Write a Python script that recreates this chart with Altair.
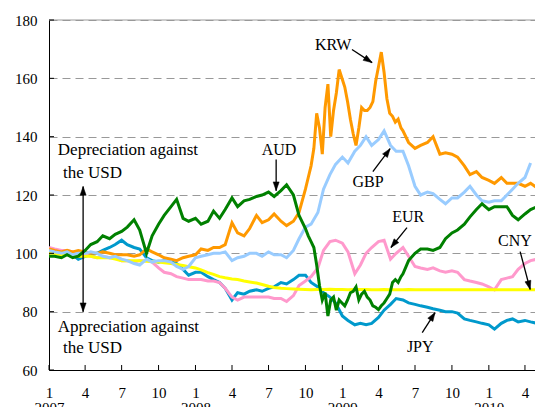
import altair as alt
import pandas as pd

# semi-monthly observation dates (1st and 15th of each month)
dates = pd.date_range("2007-01-01", "2010-05-15", freq="SMS")

AUD = [99, 99, 98.5, 99.5, 98.5, 99, 101, 103, 104, 106, 105, 106.5, 107.5, 109, 111.5, 108,
       100, 106, 110, 113, 116, 118.5, 112, 111, 112, 110, 111, 114.5, 112, 115, 119, 116,
       118, 118.5, 119.5, 120, 121, 119.5, 121.5, 123.5, 120, 113, 109, 104, 96, 84,
       78, 84, 82, 85, 86, 85, 86, 82, 81, 83, 88, 91, 93, 97.5, 100, 101.5,
       101.5, 101, 102, 105, 107, 108, 110, 112.5, 115, 117, 115, 116, 116, 116,
       113, 111.5, 113.5, 115, 116, 116]
KRW = [101.5, 101, 100.5, 101, 100.5, 101, 100.5, 100, 100, 100.5, 100, 99.5, 99.5, 99.5, 99, 99.5,
       101.5, 100.5, 99.5, 98.5, 98, 97.5, 98.5, 99, 99.5, 101.5, 101, 102, 102, 103, 110.5, 107,
       106, 108.5, 113, 110.5, 111.5, 113.5, 111, 109.5, 111, 114, 120, 130, 148, 135,
       153, 145, 158, 148, 139, 150, 149, 150, 163, 168, 151, 145, 142, 138, 136, 137,
       138, 140, 134, 134.5, 134, 133, 130, 127, 128, 126, 125, 124, 126, 124,
       124, 124, 123, 124, 122.5, 123]
GBP = [101, 100.5, 100, 100.5, 99.5, 100, 100, 100.5, 100, 99, 98.5, 99, 98, 97.5, 96.5, 96,
       98, 97, 97.5, 97.5, 97, 95.5, 94.5, 95.5, 98.5, 99, 99.5, 100, 100, 100.5, 97.5, 98.5,
       99, 100, 100, 99, 100.5, 99.5, 99.5, 98.5, 101, 105, 109, 110, 114, 122,
       127, 130.5, 133, 131, 135, 137, 140, 137, 139, 142, 137, 135, 135, 130, 123, 120,
       121, 120.5, 118.5, 117, 119, 119, 121, 123, 120, 118, 117.5, 118, 118, 120,
       122, 124, 126, 131]
EUR = [102, 101.5, 101, 101, 100.5, 100, 99.5, 99, 98.5, 99, 98.5, 98.5, 97.5, 97.5, 97, 97.5,
       97.5, 97, 95, 93.5, 93, 92, 91.5, 91, 91, 91, 90.5, 90.5, 90, 88, 85, 84,
       85, 85, 85, 85, 85, 84.5, 84.5, 83.5, 85.5, 89, 90.5, 92, 95, 101,
       104, 104.5, 103.5, 100.5, 93, 96, 100, 102, 104, 104.5, 98, 100, 102, 99, 95.5, 95,
       94.5, 95, 94, 93.5, 94, 93.5, 91, 90.5, 90, 89.5, 88.5, 87.5, 91, 91.5,
       92, 94.5, 96.5, 97.5, 98, 98.5]
JPY = [101.5, 101, 100.5, 100.5, 99.5, 98, 99, 99.5, 100, 101, 102, 103, 104.5, 103, 102, 101.5,
       98.5, 97.5, 97, 97.5, 97, 96.5, 94.5, 92.5, 93.5, 93.5, 92, 91, 90, 88, 84, 86.5,
       86, 87, 87.5, 87, 88, 88.5, 90, 89.5, 91, 92.5, 92.5, 90, 88.5, 86.5,
       85, 83, 78.5, 77, 75.5, 76, 75.5, 76, 78, 80.5, 82.5, 84.5, 84, 83, 82.5, 82,
       81.5, 81, 80.5, 80, 80, 79.5, 77.5, 77, 76.5, 76, 75.5, 74, 76, 77,
       77.5, 76.5, 77, 76.5, 76, 77]
CNY = [100, 100, 99.5, 99.5, 99.5, 99, 99, 99, 98.5, 98.5, 98.5, 98, 97.5, 97.5, 97.5, 97.5,
       97.3, 97.2, 97, 96.8, 96.5, 96.2, 95.8, 95.4, 95, 94.3, 93.4, 92.8, 92, 91.6, 91.2, 91,
       90.5, 90.2, 89.8, 89.3, 88.7, 88.3, 88, 87.9, 87.8, 87.7, 87.6, 87.5, 87.6, 87.6,
       87.7, 87.6, 87.6, 87.5, 87.6, 87.6, 87.6, 87.5, 87.5, 87.6, 87.5, 87.5, 87.5, 87.6, 87.5, 87.5,
       87.5, 87.5, 87.5, 87.5, 87.5, 87.5, 87.5, 87.5, 87.5, 87.5, 87.5, 87.5, 87.5, 87.5,
       87.5, 87.5, 87.5, 87.5, 87.5, 87.5]

# weekly detail for the volatile window (Oct 2008 - May 2009)
weekly_dates = pd.date_range("2008-10-01", "2009-05-27", freq="7D")
KRW_weekly = [122, 126, 130, 136, 148, 143, 134, 150, 158, 140, 149, 155, 163, 160, 157, 152,
              146, 141, 137, 143, 150, 149, 149, 150, 152, 159, 164, 169, 162, 153, 148, 147,
              145, 146, 143]
AUD_weekly = [108.5, 106, 104, 102, 96, 89, 84, 86.5, 78.5, 84, 85, 80.5, 84, 83, 82, 84,
              86.5, 87, 88.5, 84, 86, 87, 85, 84, 82, 81.5, 80.7, 82, 83, 84.5, 86, 90,
              91, 90, 92]
weekly = {"KRW": KRW_weekly, "AUD": AUD_weekly}

series = {"JPY": JPY, "EUR": EUR, "CNY": CNY, "KRW": KRW, "GBP": GBP, "AUD": AUD}
colors = {"KRW": "#FF9900", "GBP": "#99CCFF", "AUD": "#008000",
          "EUR": "#FF99CC", "JPY": "#0099CC", "CNY": "#FFFF00"}

# annotations
ann_labels = ["KRW", "GBP", "AUD", "EUR", "CNY", "JPY"]
ann_dates = ["2008-12-09", "2009-03-06", "2008-07-27", "2009-06-14", "2010-03-07", "2009-07-14"]
ann_values = [171.6, 124.3, 135.6, 112.6, 104.4, 68.0]

arrow_from_dates = ["2009-01-25", "2009-03-18", "2008-07-20", "2009-06-11", "2010-03-20", "2009-07-19",
                    "2007-03-27", "2007-03-27"]
arrow_from_values = [169.9, 128.0, 132.2, 108.8, 100.6, 72.8, 101.0, 101.0]
arrow_to_dates = ["2009-03-16", "2009-04-30", "2008-07-20", "2009-05-02", "2010-04-14", "2009-08-20",
                  "2007-03-27", "2007-03-27"]
arrow_to_values = [165.4, 135.9, 121.5, 102.0, 87.6, 79.7, 122.9, 80.0]
arrow_angles = [123, 36, 180, 219, 165, 33, 0, 180]

note_lines = ["Depreciation against", "the USD", "Appreciation against", "the USD"]
note_dates = ["2007-01-23", "2007-02-05", "2007-01-23", "2007-02-05"]
note_values = [135.6, 127.7, 74.9, 67.7]

tick_dates = pd.date_range("2007-01-01", "2010-04-01", freq="QS")
y_ticks = [60, 80, 100, 120, 140, 160, 180]

FONT = "Liberation Serif, Times New Roman, Times, serif"
W, H = 486, 350

x_axis = alt.Axis(
    values=[alt.DateTime(year=d.year, month=d.month, date=1) for d in tick_dates],
    labelExpr="month(datum.value) == 0 ? ['1', '' + year(datum.value)] : '' + (month(datum.value) + 1)",
    tickSize=0, labelPadding=15, grid=False, domainColor="black", labelFont=FONT,
    labelFontSize=15, labelColor="black", title=None, labelLineHeight=15,
    labelFlush=False, labelOverlap=False,
)
x_scale = alt.Scale(domain=[alt.DateTime(year=2007, month=1, date=1),
                            alt.DateTime(year=2010, month=4, date=26)])
y_axis = alt.Axis(values=y_ticks, tickSize=0, labelPadding=12, grid=True, gridDash=[8, 5],
                  gridColor="#999999", domainColor="black", labelFont=FONT, labelFontSize=15,
                  labelColor="black", title=None)
y_scale = alt.Scale(domain=[60, 180], nice=False)

X = alt.X("date:T", scale=x_scale, axis=x_axis)
Y = alt.Y("value:Q", scale=y_scale, axis=y_axis)

w_start, w_end = weekly_dates[0], weekly_dates[-1]
layers = []
for name, vals in series.items():
    d = pd.DataFrame({"date": dates[:len(vals)], "value": vals})
    if name in weekly:
        d = d[(d["date"] < w_start) | (d["date"] > w_end)]
        d = pd.concat([d, pd.DataFrame({"date": weekly_dates, "value": weekly[name]})])
        d = d.sort_values("date")
    layers.append(alt.Chart(d).mark_line(color=colors[name], strokeWidth=3, clip=True).encode(
        x=X, y=Y, order="date:T"))

# frame top edge and inside tick marks
layers.append(alt.Chart(pd.DataFrame({"value": [180]})).mark_rule(color="#999999").encode(
    y=Y, x=alt.value(0), x2=alt.value(W)))
xt = pd.DataFrame({"date": tick_dates})
layers.append(alt.Chart(xt).mark_rule(color="black").encode(x=X, y=alt.value(H - 5), y2=alt.value(H)))
yt = pd.DataFrame({"value": y_ticks})
layers.append(alt.Chart(yt).mark_rule(color="black").encode(y=Y, x=alt.value(0), x2=alt.value(5)))

# arrows
arr = pd.DataFrame({"date": pd.to_datetime(arrow_from_dates), "value": arrow_from_values,
                    "date2": pd.to_datetime(arrow_to_dates), "value2": arrow_to_values})
layers.append(alt.Chart(arr).mark_rule(color="black", strokeWidth=1.3).encode(
    x=X, y=Y, x2="date2:T", y2="value2:Q"))
heads = pd.DataFrame({"date": pd.to_datetime(arrow_to_dates), "value": arrow_to_values,
                      "angle": arrow_angles})
layers.append(alt.Chart(heads).mark_point(
    shape="M0,0 L0.45,1.3 L-0.45,1.3 Z", filled=True, fill="black", stroke="black",
    opacity=1, size=180, strokeWidth=0.5).encode(
    x=X, y=Y, angle=alt.Angle("angle:Q", scale=None)))

# labels
ann = pd.DataFrame({"date": pd.to_datetime(ann_dates), "value": ann_values, "label": ann_labels})
layers.append(alt.Chart(ann).mark_text(font=FONT, fontSize=16, color="black", align="center",
                                       baseline="middle").encode(x=X, y=Y, text="label:N"))
notes = pd.DataFrame({"date": pd.to_datetime(note_dates), "value": note_values, "label": note_lines})
layers.append(alt.Chart(notes).mark_text(font=FONT, fontSize=17, color="black", align="left",
                                         baseline="middle").encode(x=X, y=Y, text="label:N"))

chart = alt.layer(*layers).properties(
    width=W, height=H,
    autosize=alt.AutoSizeParams(type="none"),
    padding={"left": 41, "top": 12, "right": 0, "bottom": 37},
).configure_view(stroke=None)

chart.save("out.html", embed_options={"renderer": "svg", "actions": False})
